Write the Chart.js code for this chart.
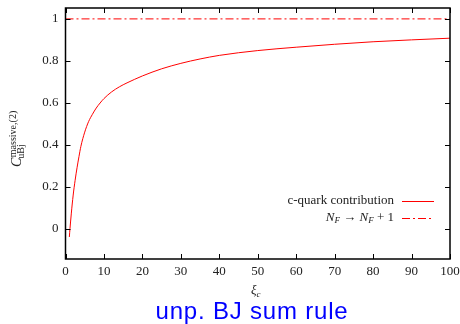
<!DOCTYPE html>
<html>
<head>
<meta charset="utf-8">
<script src="https://cdn.jsdelivr.net/npm/chart.js@4.4.1/dist/chart.umd.min.js"></script>
<style>
  html, body { margin: 0; padding: 0; background: #fff; }
  #wrap { width: 460px; height: 324px; }
</style>
</head>
<body>
<div id="wrap"><canvas id="chart" width="460" height="324"></canvas></div>
<script>
// values
const xi = [1, 1.17, 1.5, 2, 2.5, 3, 3.5, 4, 5, 6, 7, 8, 9, 10, 12, 14, 16, 18, 20,
            25, 30, 35, 40, 50, 60, 70, 80, 90, 100];
const cQuark = [-0.04, 0.0, 0.07, 0.16, 0.23, 0.29, 0.343, 0.392, 0.46, 0.51, 0.545, 0.575, 0.599, 0.62,
                0.652, 0.676, 0.695, 0.712, 0.728, 0.762, 0.788, 0.809, 0.826, 0.849, 0.865, 0.879,
                0.891, 0.9, 0.908];
const nfLineX = [0, 100];
const nfLineY = [1, 1];
const xTicks = [0, 10, 20, 30, 40, 50, 60, 70, 80, 90, 100];
const yTicks = [0, 0.2, 0.4, 0.6, 0.8, 1];
const legendLabels = ["c-quark contribution", "N_F \u2192 N_F + 1"];

const SERIF = "'Liberation Serif', 'DejaVu Serif', serif";
const dashDot = [8, 3, 2, 3];

// keep label overflow from shrinking the plot box
function fixBox(s, size) {
    if (s.isHorizontal()) s.height = size; else s.width = size;
    s.paddingLeft = 0; s.paddingRight = 0; s.paddingTop = 0; s.paddingBottom = 0;
}

// frame, inward ticks on all sides, axis titles, legend, caption
const decorations = {
    id: "decorations",
    afterDraw(chart) {
        const ctx = chart.ctx;
        const a = chart.chartArea;
        const xs = chart.scales.x;
        const ys = chart.scales.y;
        ctx.save();

        ctx.strokeStyle = "#000";
        ctx.lineWidth = 1.5;
        ctx.strokeRect(a.left, a.top, a.right - a.left, a.bottom - a.top);

        ctx.lineWidth = 1;
        ctx.beginPath();
        xTicks.forEach(v => {
            const px = Math.round(xs.getPixelForValue(v)) + 0.5;
            ctx.moveTo(px, a.bottom); ctx.lineTo(px, a.bottom - 5);
            ctx.moveTo(px, a.top); ctx.lineTo(px, a.top + 5);
        });
        yTicks.forEach(v => {
            const py = Math.round(ys.getPixelForValue(v)) + 0.5;
            ctx.moveTo(a.left, py); ctx.lineTo(a.left + 5, py);
            ctx.moveTo(a.right, py); ctx.lineTo(a.right - 5, py);
        });
        ctx.stroke();

        // legend
        ctx.fillStyle = "#222";
        ctx.textAlign = "right";
        ctx.textBaseline = "middle";
        ctx.font = "13px " + SERIF;
        ctx.fillText(legendLabels[0], 394, 201);

        // second label with italic N and subscript F
        let x = 394;
        const y2 = 218;
        const parts = [
            { t: "1", f: "13px " + SERIF, dy: 0 },
            { t: " + ", f: "13px " + SERIF, dy: 0 },
            { t: "F", f: "italic 9px " + SERIF, dy: 3 },
            { t: "N", f: "italic 13px " + SERIF, dy: 0 },
            { t: " \u2192 ", f: "13px " + SERIF, dy: 0 },
            { t: "F", f: "italic 9px " + SERIF, dy: 3 },
            { t: "N", f: "italic 13px " + SERIF, dy: 0 }
        ];
        parts.forEach(p => {
            ctx.font = p.f;
            ctx.fillText(p.t, x, y2 + p.dy);
            x -= ctx.measureText(p.t).width;
        });

        ctx.strokeStyle = "#ff0000";
        ctx.lineWidth = 1;
        ctx.beginPath();
        ctx.moveTo(402, 201.5); ctx.lineTo(434, 201.5);
        ctx.stroke();
        ctx.setLineDash(dashDot);
        ctx.beginPath();
        ctx.moveTo(402, 218.5); ctx.lineTo(434, 218.5);
        ctx.stroke();
        ctx.setLineDash([]);

        // x axis title: xi_c
        ctx.textAlign = "left";
        ctx.textBaseline = "alphabetic";
        ctx.font = "italic 13px " + SERIF;
        ctx.fillText("\u03be", 251, 294);
        const w = ctx.measureText("\u03be").width;
        ctx.font = "italic 9px " + SERIF;
        ctx.fillText("c", 251 + w, 297);

        // y axis title, rotated
        ctx.save();
        ctx.translate(20.5, 167);
        ctx.rotate(-Math.PI / 2);
        ctx.font = "italic 14px " + SERIF;
        ctx.fillText("C", 0, 0);
        const cw = ctx.measureText("C").width;
        ctx.font = "10px " + SERIF;
        ctx.fillText("massive,(2)", cw + 0.5, -5);
        ctx.fillText("uBj", cw - 1, 3);
        ctx.restore();

        // caption
        ctx.fillStyle = "#0000ff";
        ctx.textAlign = "center";
        ctx.font = "24px 'Liberation Sans', Arial, sans-serif";
        ctx.letterSpacing = "0.8px";
        ctx.fillText("unp. BJ sum rule", 252, 319);
        ctx.restore();
    }
};

const ctx = document.getElementById("chart").getContext("2d");
const chart = new Chart(ctx, {
    type: "line",
    data: {
        datasets: [
            {
                label: legendLabels[0],
                data: xi.map((v, i) => ({ x: v, y: cQuark[i] })),
                borderColor: "#ff0000",
                borderWidth: 1,
                pointRadius: 0,
                cubicInterpolationMode: "monotone",
                fill: false
            },
            {
                label: legendLabels[1],
                data: nfLineX.map((v, i) => ({ x: v, y: nfLineY[i] })),
                borderColor: "#ff0000",
                borderWidth: 1,
                borderDash: dashDot,
                pointRadius: 0,
                fill: false
            }
        ]
    },
    options: {
        responsive: false,
        animation: false,
        layout: { padding: { left: 0, right: 10, top: 8, bottom: 0 } },
        plugins: {
            legend: { display: false },
            tooltip: { enabled: false }
        },
        scales: {
            x: {
                type: "linear",
                min: 0,
                max: 100,
                afterBuildTicks: s => { s.ticks = xTicks.map(v => ({ value: v })); },
                afterFit: s => fixBox(s, 65),
                grid: { display: false, tickLength: 0 },
                border: { display: false },
                ticks: {
                    padding: 5,
                    color: "#222",
                    maxRotation: 0,
                    font: { family: SERIF, size: 13 }
                }
            },
            y: {
                type: "linear",
                min: -0.145,
                max: 1.052,
                afterBuildTicks: s => { s.ticks = yTicks.map(v => ({ value: v })); },
                afterFit: s => fixBox(s, 65.5),
                grid: { display: false, tickLength: 0 },
                border: { display: false },
                ticks: {
                    padding: 7,
                    color: "#222",
                    font: { family: SERIF, size: 13 },
                    callback: v => String(v)
                }
            }
        }
    },
    plugins: [decorations]
});
</script>
</body>
</html>
